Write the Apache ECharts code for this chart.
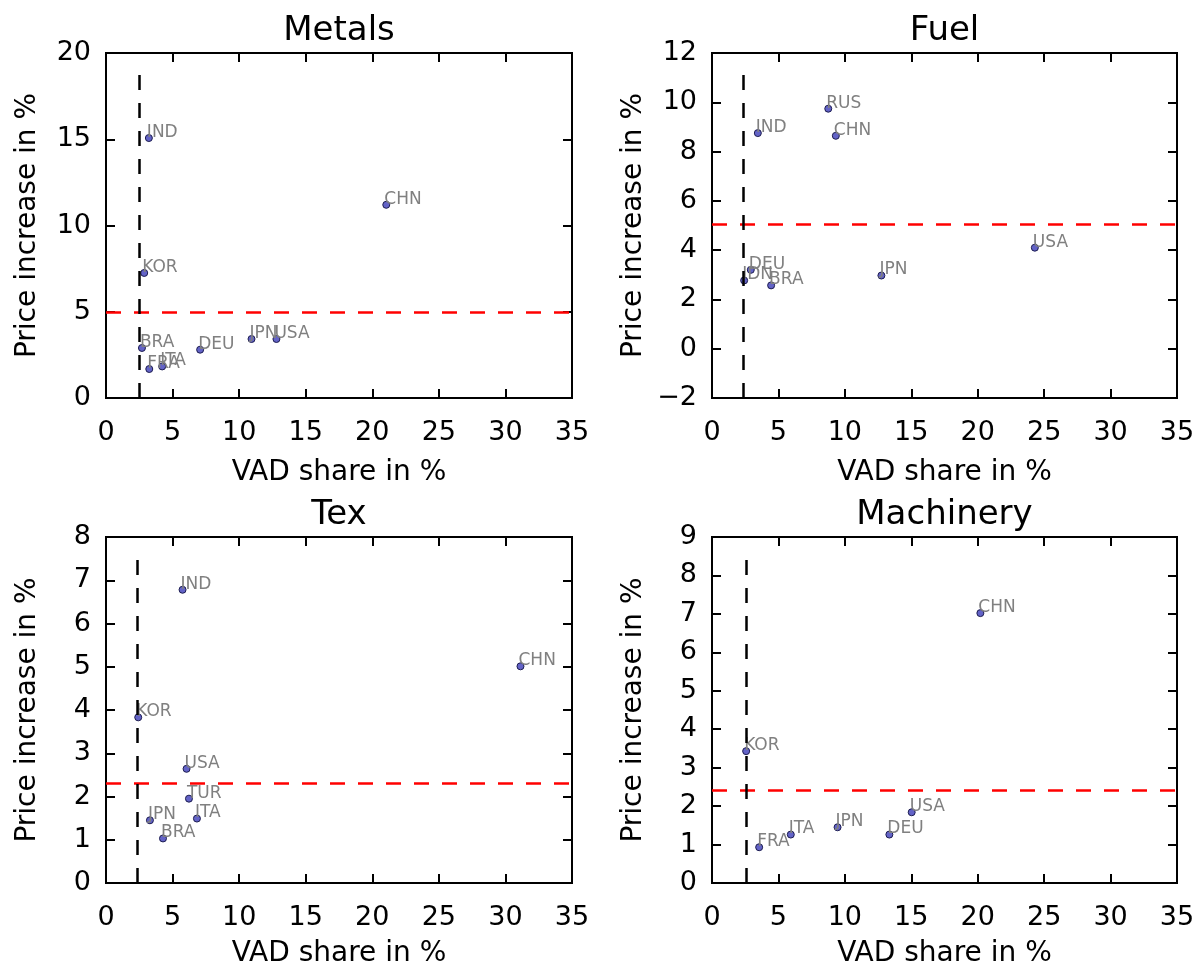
<!DOCTYPE html>
<html>
<head>
<meta charset="utf-8">
<script src="https://cdn.jsdelivr.net/npm/echarts@6/dist/echarts.min.js"></script>
<style>
  html, body { margin: 0; padding: 0; background: #fff; }
  #chart { width: 1199px; height: 966px; }
</style>
</head>
<body>
<div id="chart"></div>
<script>
// panel titles
const titles = ["Metals", "Fuel", "Tex", "Machinery"];

// Metals
const metalsCountries = ["IND", "CHN", "KOR", "BRA", "DEU", "JPN", "USA", "FRA", "ITA"];
const metalsVad = [3.22, 21.05, 2.87, 2.7, 7.07, 10.93, 12.8, 3.25, 4.22];
const metalsPrice = [15.07, 11.2, 7.25, 2.9, 2.8, 3.42, 3.42, 1.68, 1.83];

// Fuel
const fuelCountries = ["RUS", "IND", "CHN", "USA", "DEU", "IDN", "BRA", "JPN"];
const fuelVad = [8.75, 3.45, 9.32, 24.3, 2.92, 2.42, 4.45, 12.75];
const fuelPrice = [9.74, 8.75, 8.64, 4.1, 3.2, 2.77, 2.57, 2.97];

// Tex
const texCountries = ["IND", "CHN", "KOR", "USA", "TUR", "JPN", "ITA", "BRA"];
const texVad = [5.75, 31.13, 2.42, 6.05, 6.23, 3.3, 6.83, 4.28];
const texPrice = [6.78, 5.01, 3.83, 2.64, 1.95, 1.45, 1.49, 1.03];

// Machinery
const machCountries = ["CHN", "KOR", "USA", "JPN", "DEU", "ITA", "FRA"];
const machVad = [20.2, 2.57, 15.03, 9.45, 13.35, 5.93, 3.55];
const machPrice = [7.02, 3.43, 1.84, 1.45, 1.26, 1.26, 0.93];

// threshold lines
const priceLine = [5, 5.05, 2.3, 2.4];
const vadLine = [2.5, 2.37, 2.35, 2.57];
const vadLineTop = [19.1, 11.4, 7.67, 8.63];

// axis ranges / ticks
const xTicks = [0, 35, 5];
const yMin = [0, -2, 0, 0];
const yMax = [20, 12, 8, 9];
const yStep = [5, 2, 1, 1];

const countries = [metalsCountries, fuelCountries, texCountries, machCountries];
const vads = [metalsVad, fuelVad, texVad, machVad];
const prices = [metalsPrice, fuelPrice, texPrice, machPrice];

const FONT = "DejaVu Sans";
const grids = [
    { left: 106, top: 53, width: 466, height: 345 },
    { left: 712, top: 53, width: 465, height: 345 },
    { left: 106, top: 537, width: 466, height: 346 },
    { left: 712, top: 537, width: 465, height: 346 }
];
const xNameGap = [61, 61, 57, 57];

const chart = echarts.init(document.getElementById("chart"), null, { renderer: "canvas" });

const tickStyle = { show: true, inside: true, length: 9, lineStyle: { color: "#000", width: 2 } };
const noLine = { show: false, onZero: false };
const xAxis = [], yAxis = [], series = [], title = [];

grids.forEach((g, i) => {
    title.push({
        text: titles[i],
        left: g.left + g.width / 2,
        top: g.top - 39,
        textAlign: "center",
        padding: 0,
        textStyle: { fontFamily: FONT, fontSize: 34, fontWeight: "normal", color: "#000" }
    });
    const xBase = { gridIndex: i, type: "value", min: xTicks[0], max: xTicks[1], interval: xTicks[2],
        splitLine: { show: false }, axisLine: noLine, axisTick: tickStyle };
    xAxis.push(Object.assign({}, xBase, {
        position: "bottom",
        name: "VAD share in %",
        nameLocation: "middle",
        nameGap: xNameGap[i],
        nameTextStyle: { fontFamily: FONT, fontSize: 28, color: "#000" },
        axisLabel: { fontFamily: FONT, fontSize: 27, color: "#000", margin: 21 }
    }));
    xAxis.push(Object.assign({}, xBase, { position: "top", axisLabel: { show: false } }));

    const yBase = { gridIndex: i, type: "value", min: yMin[i], max: yMax[i], interval: yStep[i],
        splitLine: { show: false }, axisLine: noLine, axisTick: tickStyle };
    yAxis.push(Object.assign({}, yBase, {
        position: "left",
        name: "Price increase in %",
        nameLocation: "middle",
        nameGap: 64,
        nameTextStyle: { fontFamily: FONT, fontSize: 28, color: "#000" },
        axisLabel: { fontFamily: FONT, fontSize: 27, color: "#000", margin: 15,
            formatter: v => String(v).replace("-", "\u2212") }
    }));
    yAxis.push(Object.assign({}, yBase, { position: "right", axisLabel: { show: false } }));

    series.push({
        type: "scatter",
        xAxisIndex: i * 2,
        yAxisIndex: i * 2,
        symbolSize: 7,
        itemStyle: { color: "rgba(60,60,185,0.8)", borderColor: "#1c1c50", borderWidth: 1, opacity: 1 },
        label: {
            show: true,
            formatter: p => p.data[2],
            position: [2, 7],
            align: "left",
            verticalAlign: "bottom",
            fontFamily: FONT,
            fontSize: 17,
            color: "#808080"
        },
        data: vads[i].map((v, k) => [v, prices[i][k], countries[i][k]]),
        markLine: {
            silent: true,
            symbol: "none",
            label: { show: false },
            animation: false,
            data: [
                { yAxis: priceLine[i], lineStyle: { color: "#ff0000", type: [15, 13], width: 2.5 } },
                [
                    { coord: [vadLine[i], yMin[i]], lineStyle: { color: "#000", type: [15, 13], width: 2.5 } },
                    { coord: [vadLine[i], vadLineTop[i]] }
                ]
            ]
        },
        z: 3
    });
});

chart.setOption({
    animation: false,
    backgroundColor: "#fff",
    title: title,
    grid: grids.map(g => Object.assign({ show: true, borderColor: "#000", borderWidth: 2,
        backgroundColor: "transparent", outerBoundsMode: "none", containLabel: false }, g)),
    xAxis: xAxis,
    yAxis: yAxis,
    series: series
});
</script>
</body>
</html>
